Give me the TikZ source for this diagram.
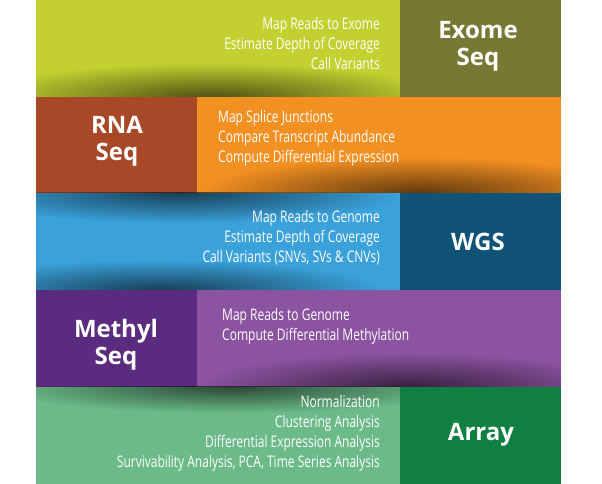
\documentclass[tikz,border=0pt]{standalone}
\usepackage{fontspec}
\setmainfont{Open Sans}
\newfontfamily\bodyfont[FakeStretch=0.75]{Open Sans}
\usetikzlibrary{fadings}
\definecolor{limeband}{HTML}{C3D030}
\definecolor{oliveband}{HTML}{777833}
\definecolor{rustband}{HTML}{A84826}
\definecolor{orangeband}{HTML}{F39022}
\definecolor{blueband}{HTML}{3AA1DA}
\definecolor{navyband}{HTML}{115377}
\definecolor{plumband}{HTML}{5A2B7E}
\definecolor{purpleband}{HTML}{8C53A0}
\definecolor{mintband}{HTML}{6BBA88}
\definecolor{greenband}{HTML}{0F8042}
\tikzfading[name=softspot,inner color=transparent!0,outer color=transparent!100]
\begin{document}
\begin{tikzpicture}[x=1pt,y=1pt,
  task/.style={inner sep=0pt,text=white,font=\bodyfont\fontsize{16}{20}\selectfont},
  head/.style={inner sep=0pt,text=white,align=center,font=\bfseries\fontsize{24}{27}\selectfont},
  shade/.style={fill=black,fill opacity=0.6,path fading=softspot}]
\useasboundingbox (0,0) rectangle (602,484);
% bands
\fill[limeband] (36,387) rectangle (400,484);
\fill[oliveband] (400,387) rectangle (561,484);
\fill[rustband] (36,291) rectangle (197,387);
\fill[orangeband] (197,291) rectangle (561,387);
\fill[blueband] (36,194) rectangle (400,291);
\fill[navyband] (400,194) rectangle (561,291);
\fill[plumband] (36,97) rectangle (197,194);
\fill[purpleband] (197,97) rectangle (561,194);
\fill[mintband] (36,0) rectangle (400,97);
\fill[greenband] (400,0) rectangle (561,97);
% shadows
\begin{scope}
\clip (36,387) rectangle (400,484);
\fill[shade] (210,387) ellipse (230 and 34);
\end{scope}
\begin{scope}
\clip (197,291) rectangle (561,387);
\fill[shade] (420,291) ellipse (220 and 36);
\end{scope}
\begin{scope}
\clip (36,194) rectangle (400,291);
\fill[shade] (180,291) ellipse (220 and 30);
\fill[shade] (160,194) ellipse (220 and 30);
\end{scope}
\begin{scope}
\clip (197,97) rectangle (561,194);
\fill[shade] (410,97) ellipse (210 and 34);
\end{scope}
\begin{scope}
\clip (36,0) rectangle (400,97);
\fill[shade] (230,97) ellipse (230 and 26);
\end{scope}
% headings
\node[head] (exome) at (478,438) {Exome\\Seq};
\node[head] (rna) at (117,343) {RNA\\Seq};
\node[head] (wgs) at (478,242) {WGS};
\node[head] (methyl) at (116,139) {Methyl\\Seq};
\node[head] (array) at (481,49) {Array};
% tasks
\node[task,anchor=east,align=right] (exometasks) at (380,440) {Map Reads to Exome\\Estimate Depth of Coverage\\Call Variants};
\node[task,anchor=west,align=left] (rnatasks) at (218,346) {Map Splice Junctions\\Compare Transcript Abundance\\Compute Differential Expression};
\node[task,anchor=east,align=right] (wgstasks) at (380,246) {Map Reads to Genome\\Estimate Depth of Coverage\\Call Variants (SNVs, SVs \& CNVs)};
\node[task,anchor=west,align=left] (methyltasks) at (222,158) {Map Reads to Genome\\Compute Differential Methylation};
\node[task,anchor=east,align=right] (arraytasks) at (380,51) {Normalization\\Clustering Analysis\\Differential Expression Analysis\\Survivability Analysis, PCA, Time Series Analysis};
\end{tikzpicture}
\end{document}
